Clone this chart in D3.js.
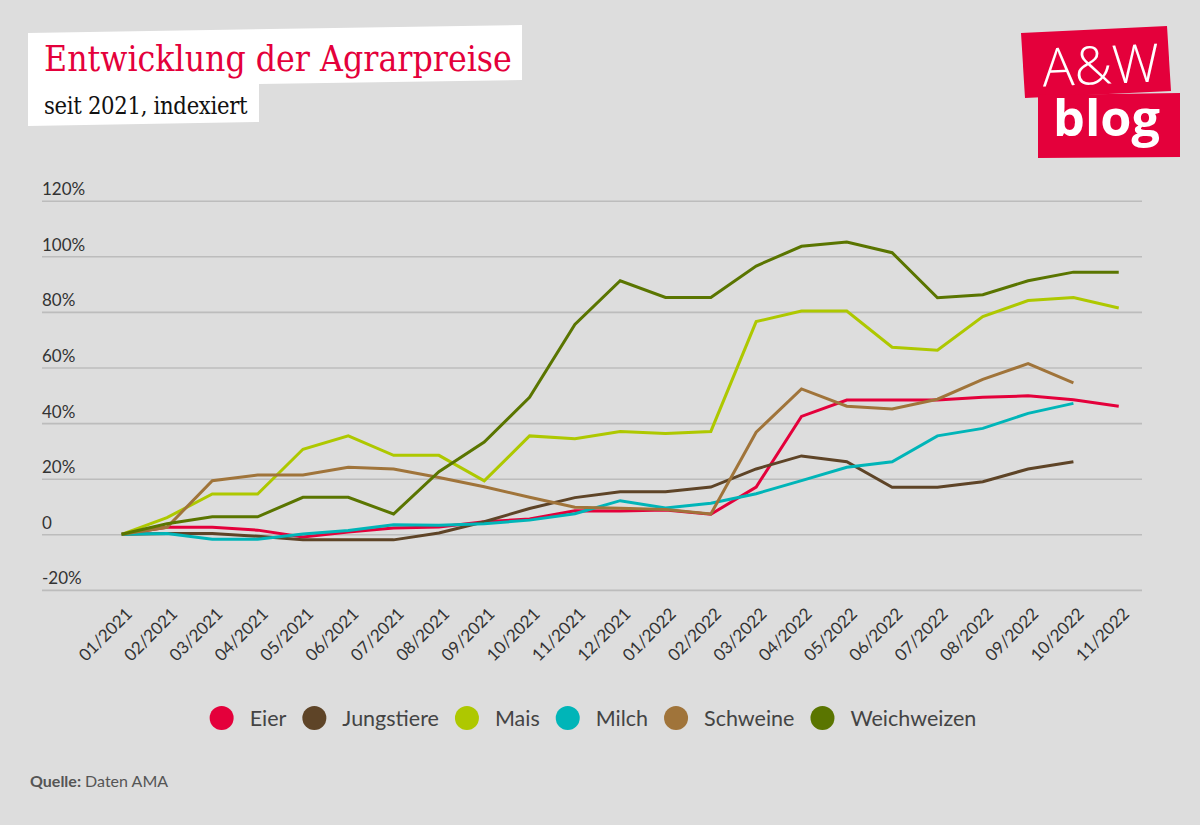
<!DOCTYPE html>
<html><head><meta charset="utf-8">
<script src="https://cdn.jsdelivr.net/npm/d3@7"></script>
<style>
html,body{margin:0;padding:0;background:#dddddd;}
svg{display:block;}
</style></head>
<body>
<svg id="chart" width="1200" height="825"></svg>
<script>
const months = ["01/2021","02/2021","03/2021","04/2021","05/2021","06/2021","07/2021","08/2021","09/2021","10/2021","11/2021","12/2021","01/2022","02/2022","03/2022","04/2022","05/2022","06/2022","07/2022","08/2022","09/2022","10/2022","11/2022"];
const seriesNames = ["Eier","Jungstiere","Mais","Milch","Schweine","Weichweizen"];
const seriesColors = ["#e4003b","#5e4427","#aec800","#00b5b8","#a0743a","#5a7500"];
const eier = [0,2.5,2.5,1.5,-1.0,0.8,2.3,2.6,4.5,5.5,8.5,8.4,8.7,7.2,17,42.4,48.3,48.3,48.3,49.3,49.8,48.4,46.1];
const jungstiere = [0,0.3,0.3,-0.7,-2.0,-2.0,-2.0,0.5,4.5,9.3,13.2,15.3,15.3,17.0,23.5,28.2,26.1,16.9,16.9,18.9,23.5,26.1,null];
const mais = [0,6,14.5,14.5,30.6,35.4,28.4,28.4,19.2,35.4,34.4,37,36.3,37,76.5,80.3,80.3,67.3,66.2,78.3,84.1,85.2,81.4];
const milch = [0,0.3,-1.8,-1.8,0.1,1.4,3.4,3.3,3.8,5.1,7.4,12.1,9.5,11.2,14.6,19.3,24.1,26.1,35.4,38.1,43.5,47.1,null];
const schweine = [0,2.5,19.3,21.3,21.3,24.1,23.5,20.4,17.1,13.3,9.7,9.4,8.9,7.3,36.7,52.3,46.1,45.1,48.6,55.7,61.4,54.5,null];
const weichweizen = [0,3.8,6.3,6.3,13.3,13.3,7.3,22.5,33.2,49.3,75.5,91.2,85.2,85.2,96.5,103.6,105.1,101.3,85.1,86.2,91.2,94.3,94.3];
const yTickValues = [-20,0,20,40,60,80,100,120];
const yTickLabels = ["-20%","0","20%","40%","60%","80%","100%","120%"];

const seriesValues = [eier,jungstiere,mais,milch,schweine,weichweizen];

const svg = d3.select("#chart");
svg.append("rect").attr("width",1200).attr("height",825).attr("fill","#dddddd");

// Title boxes
svg.append("polygon")
  .attr("points","28,33 522,25 522,80 259,84 259,122 28,126")
  .attr("fill","#ffffff");

function fitText(sel, w){
  const n = sel.node();
  const len = n.getComputedTextLength();
  const fs = parseFloat(sel.attr("font-size"));
  sel.attr("font-size", fs*w/len);
}
const title = svg.append("text").attr("x",44).attr("y",71)
  .attr("font-family","'DejaVu Serif Condensed', 'DejaVu Serif', serif").attr("font-stretch","condensed").attr("font-size",32)
  .attr("fill","#e4003b").text("Entwicklung der Agrarpreise");
fitText(title, 468);
const sub = svg.append("text").attr("x",44).attr("y",114)
  .attr("font-family","'DejaVu Serif Condensed', 'DejaVu Serif', serif").attr("font-stretch","condensed").attr("font-size",22)
  .attr("fill","#111").attr("letter-spacing",-0.3).text("seit 2021, indexiert");
fitText(sub, 203);

// Logo
svg.append("polygon").attr("points","1021,33 1167,26 1171,91 1025,98").attr("fill","#e4003b");
svg.append("polygon").attr("points","1038,95 1180,93 1180,157 1038,158").attr("fill","#e4003b");
const aw = svg.append("text").attr("x",1042).attr("y",84)
  .attr("font-family","'Open Sans', sans-serif").attr("font-weight",300).attr("font-size",54)
  .attr("fill","#fff").attr("transform","rotate(-2.5 1100 60)").text("A&W");
fitText(aw, 117);
const blog = svg.append("text").attr("x",1053).attr("y",136)
  .attr("font-family","'Open Sans', sans-serif").attr("font-weight",700).attr("font-size",48)
  .attr("fill","#fff").text("blog");
fitText(blog, 107);

// Scales
const x = d3.scalePoint().domain(months).range([99,1141.4]).padding(0.5);
const y = d3.scaleLinear().domain([-20,120]).range([589.9,200.7]);

// Y axis with gridlines
const yAxis = d3.axisRight(y).tickValues(yTickValues)
  .tickFormat(d=>yTickLabels[yTickValues.indexOf(d)])
  .tickSize(1100);
const gy = svg.append("g").attr("transform","translate(42,0)").call(yAxis);
gy.select(".domain").remove();
gy.selectAll(".tick line").attr("stroke","#bcbcbc").attr("stroke-width",1.6);
gy.selectAll(".tick text").attr("x",0).attr("y",0).attr("dy","-6")
  .attr("text-anchor","start")
  .attr("font-family","Lato, sans-serif").attr("font-size",17).attr("fill","#333");

// X axis
const xAxis = d3.axisBottom(x).tickSize(0);
const gx = svg.append("g").attr("transform","translate(0,600)").call(xAxis);
gx.select(".domain").remove();
gx.selectAll(".tick text")
  .attr("font-family","Lato, sans-serif").attr("font-size",17).attr("fill","#333")
  .attr("text-anchor","end").attr("dy",0).attr("y",0)
  .attr("transform","translate(11,15) rotate(-45)");

// Lines
const line = d3.line().defined(d=>d!=null)
  .x((d,i)=>x(months[i])).y(d=>y(d));
seriesValues.forEach((vals,k)=>{
  svg.append("path").datum(vals)
    .attr("fill","none").attr("stroke",seriesColors[k]).attr("stroke-width",3)
    .attr("stroke-linejoin","miter").attr("d",line);
});

// Legend
const lg = svg.append("g");
let cx = 0;
seriesNames.forEach((n,k)=>{
  lg.append("circle").attr("cx",cx).attr("cy",718).attr("r",12).attr("fill",seriesColors[k]);
  const t = lg.append("text").attr("x",cx+28).attr("y",726)
    .attr("font-family","Lato, sans-serif").attr("font-size",21.5).attr("fill","#444").text(n);
  const w = t.node().getComputedTextLength();
  cx = cx + 28 + w + 28;
});
const lgLeft = -12, lgRight = cx - 28;
const lgCenter = 593;
lg.attr("transform",`translate(${lgCenter-(lgLeft+lgRight)/2},0)`);

// Source
const src = svg.append("text").attr("x",30).attr("y",787)
  .attr("font-family","Lato, sans-serif").attr("font-size",16).attr("fill","#555");
src.append("tspan").attr("font-weight",700).text("Quelle:");
src.append("tspan").text(" Daten AMA");
</script>
</body></html>
